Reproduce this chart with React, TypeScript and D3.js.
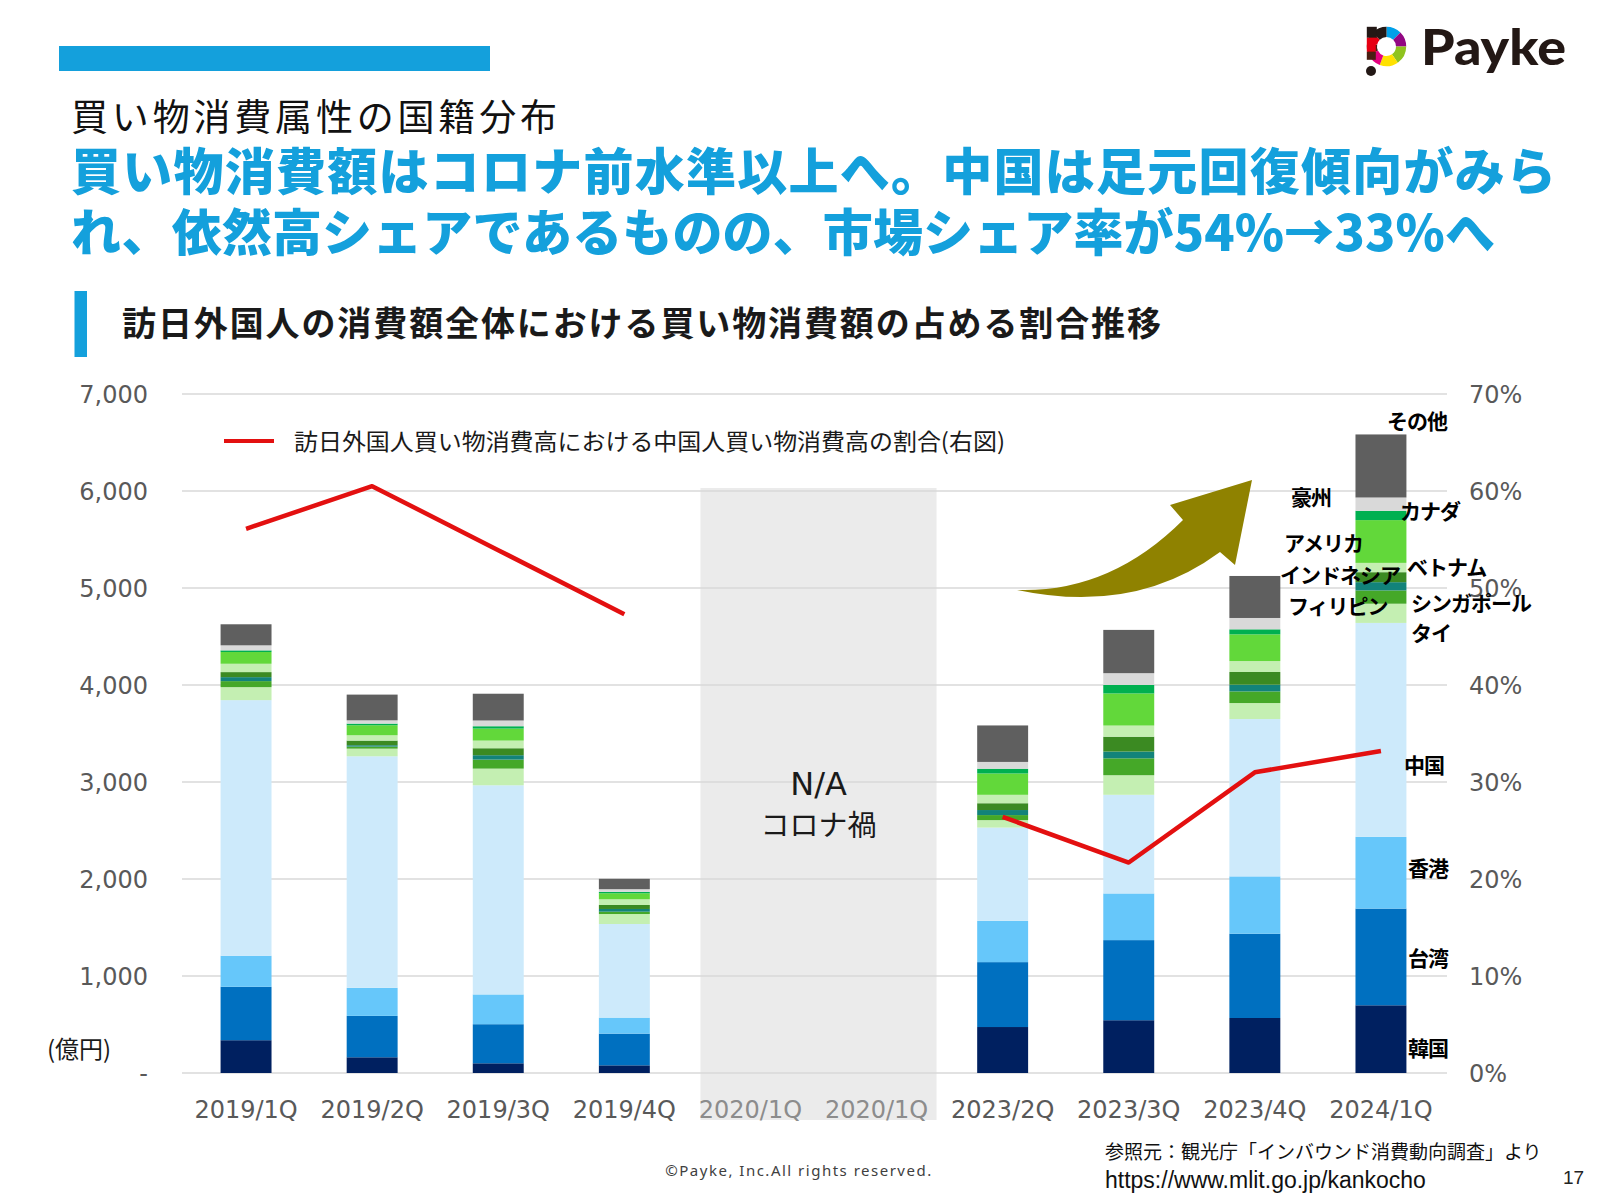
import React from 'react';
import * as d3 from 'd3';

// ---------------- data ----------------
const categories = ['2019/1Q', '2019/2Q', '2019/3Q', '2019/4Q', '2020/1Q', '2020/1Q', '2023/2Q', '2023/3Q', '2023/4Q', '2024/1Q'];
const noData = [false, false, false, false, true, true, false, false, false, false];

const seriesNames = ['韓国', '台湾', '香港', '中国', 'タイ', 'シンガポール', 'フィリピン', 'インドネシア', 'ベトナム', 'アメリカ', 'カナダ', '豪州', 'その他'];

// 億円
const korea = [338, 162, 100, 79, null, null, 474, 544, 567, 698];
const taiwan = [551, 427, 403, 327, null, null, 669, 826, 869, 997];
const hongkong = [320, 289, 307, 165, null, null, 425, 481, 591, 739];
const china = [2635, 2387, 2156, 965, null, null, 962, 1017, 1622, 2206];
const thailand = [134, 79, 172, 103, null, null, 77, 202, 165, 198];
const singapore = [62, 21, 93, 24, null, null, 52, 174, 120, 137];
const philippines = [41, 14, 45, 28, null, null, 52, 70, 69, 85];
const indonesia = [52, 48, 72, 41, null, null, 70, 153, 131, 103];
const vietnam = [86, 55, 79, 59, null, null, 87, 115, 113, 96];
const usa = [121, 103, 124, 62, null, null, 220, 331, 275, 441];
const canada = [17, 17, 24, 14, null, null, 49, 87, 52, 96];
const australia = [52, 34, 59, 28, null, null, 70, 122, 117, 137];
const others = [217, 265, 276, 107, null, null, 376, 446, 433, 650];

const seriesValues = [korea, taiwan, hongkong, china, thailand, singapore, philippines, indonesia, vietnam, usa, canada, australia, others];

// % share of Chinese shopping spend
const chinaShare = [56.1, 60.5, 53.9, 47.3, null, null, 26.4, 21.7, 31.0, 33.2];

const leftTicks = [0, 1000, 2000, 3000, 4000, 5000, 6000, 7000];
const rightTicks = [0, 0.1, 0.2, 0.3, 0.4, 0.5, 0.6, 0.7];

// ---------------- styles ----------------
const seriesColors = ['#002060', '#0070c0', '#66c7fa', '#cdeafb', '#c4efb2', '#45a828', '#12837a', '#3b8a22', '#c4efb2', '#62d83a', '#00b050', '#d9d9d9', '#5f5f5f'];
const JP = '"Noto Sans CJK JP", "Noto Sans", sans-serif';
const NUM = '"DejaVu Sans", Verdana, sans-serif';
const BLUE = '#14a0dc';

// label annotations for the last bar: [name, dx from bar centre, anchor value (億円), text-anchor]
const labelLayout: [string, number, number, string][] = [
  ['その他', 36, 6722, 'middle'],
  ['豪州', -90, 5938, 'start'],
  ['カナダ', 19, 5794, 'start'],
  ['アメリカ', -97, 5464, 'start'],
  ['インドネシア', -101, 5134, 'start'],
  ['ベトナム', 26, 5216, 'start'],
  ['フィリピン', -93, 4814, 'start'],
  ['シンガポール', 30, 4845, 'start'],
  ['タイ', 30, 4536, 'start'],
  ['中国', 23, 3175, 'start'],
  ['香港', 27, 2113, 'start'],
  ['台湾', 27, 1186, 'start'],
  ['韓国', 27, 258, 'start'],
];

export default function App() {
  const W = 1600, H = 1200;
  const plotL = 183, plotR = 1444;
  const y0 = 1073, y7 = 394;

  const x = d3.scaleBand<number>().domain(d3.range(categories.length)).range([plotL, plotR]).paddingInner(0.596).paddingOuter(0.298);
  const bw = x.bandwidth();
  const cx = (i: number) => (x(i) as number) + bw / 2;
  const y = d3.scaleLinear().domain([0, 7000]).range([y0, y7]);
  const yR = d3.scaleLinear().domain([0, 0.7]).range([y0, y7]);

  const rows = categories.map((_, i) => {
    const r: Record<string, number> = {};
    seriesNames.forEach((n, k) => { r[n] = seriesValues[k][i] ?? 0; });
    return r;
  });
  const stacked = d3.stack<Record<string, number>>().keys(seriesNames)(rows);

  const line = d3.line<number | null>()
    .defined((d) => d != null)
    .x((_, i) => cx(i))
    .y((d) => yR((d as number) / 100));

  const fmt = d3.format(',');
  const pct = d3.format('.0%');

  // logo arcs
  const logoC = [1386.5, 46.5];
  const arc = d3.arc<any>().innerRadius(9.5).outerRadius(19.7);
  const logoSegs: [number, number, string][] = [
    [0, 45, '#00a0e9'], [45, 90, '#920783'], [90, 145, '#8fc31f'], [145, 200, '#ffe100'],
    [200, 245, '#e4007f'], [245, 280, '#4a1e12'], [280, 315, '#e60012'], [315, 360, '#231815'],
  ];

  const naL = cx(4) - 50, naR = cx(5) + 60;
  const lastC = cx(categories.length - 1);

  return (
    <svg width={W} height={H} viewBox={`0 0 ${W} ${H}`} style={{ position: 'absolute', left: 0, top: 0, display: 'block', background: '#fff' }}>
      <rect x={0} y={0} width={W} height={H} fill="#fff" />

      {/* header */}
      <rect x={59} y={46} width={431} height={25} fill={BLUE} />
      <text x={71} y={131} fontFamily={JP} fontSize={37} fill="#111" textLength={486} lengthAdjust="spacing">買い物消費属性の国籍分布</text>
      <text x={71} y={190} fontFamily={JP} fontWeight={900} fontSize={50} fill={BLUE} textLength={1485} lengthAdjust="spacing">買い物消費額はコロナ前水準以上へ。中国は足元回復傾向がみら</text>
      <text x={71} y={251} fontFamily={JP} fontWeight={900} fontSize={50} fill={BLUE} textLength={1424} lengthAdjust="spacing">れ、依然高シェアであるものの、市場シェア率が54%→33%へ</text>

      {/* logo */}
      <g>
        {logoSegs.map(([a0, a1, c], i) => (
          <path key={i} d={arc({ startAngle: (a0 * Math.PI) / 180, endAngle: (a1 * Math.PI) / 180 }) as string} transform={`translate(${logoC[0]},${logoC[1]})`} fill={c} />
        ))}
        <rect x={1366.8} y={26.8} width={10} height={11} fill="#231815" />
        <rect x={1366.8} y={37.8} width={9} height={14} fill="#e60012" />
        <rect x={1366.8} y={51.8} width={9} height={8} fill="#4a1e12" />
        <circle cx={1371} cy={71} r={5} fill="#231815" />
        <text x={1421} y={65} fontFamily='Lato, "Noto Sans", sans-serif' fontWeight={900} fontSize={50} fill="#231815" textLength={145} lengthAdjust="spacingAndGlyphs">Payke</text>
      </g>

      {/* section heading */}
      <rect x={74.5} y={291} width={12.5} height={66} fill={BLUE} />
      <text x={122} y={335.5} fontFamily={JP} fontWeight={700} fontSize={34} fill="#1a1a1a" textLength={1039} lengthAdjust="spacing">訪日外国人の消費額全体における買い物消費額の占める割合推移</text>

      {/* N/A region */}
      <rect x={naL} y={488} width={naR - naL} height={1120 - 488} fill="#ebebeb" />

      {/* gridlines */}
      {leftTicks.map((t) => (
        <line key={t} x1={182} x2={1447} y1={y(t)} y2={y(t)} stroke="#d9d9d9" strokeWidth={1.5} />
      ))}

      {/* bars */}
      {stacked.map((layer, k) => (
        <g key={seriesNames[k]} fill={seriesColors[k]}>
          {layer.map((d, i) => {
            if (noData[i] || seriesValues[k][i] == null) return null;
            const h = y(d[0]) - y(d[1]);
            if (h <= 0) return null;
            return <rect key={i} x={x(i)} y={y(d[1])} width={bw} height={h} />;
          })}
        </g>
      ))}

      {/* arrow */}
      <path d="M1017,590 Q1110,593 1183,520 L1170,505 L1252,480 L1235,565 L1220,552 Q1135,615 1017,590 Z" fill="#8f8200" />

      {/* China share line */}
      <path d={line(chinaShare) as string} fill="none" stroke="#e31010" strokeWidth={4.5} strokeLinejoin="round" />

      {/* N/A text */}
      <text x={(naL + naR) / 2} y={795} textAnchor="middle" fontFamily={NUM} fontSize={32} fill="#1a1a1a">N/A</text>
      <text x={(naL + naR) / 2} y={836} textAnchor="middle" fontFamily={JP} fontSize={29} fill="#1a1a1a">コロナ禍</text>

      {/* legend */}
      <line x1={224} x2={274} y1={441} y2={441} stroke="#e31010" strokeWidth={4} />
      <text x={294} y={449.5} fontFamily={JP} fontSize={23} fill="#1a1a1a" textLength={711} lengthAdjust="spacingAndGlyphs">訪日外国人買い物消費高における中国人買い物消費高の割合(右図)</text>

      {/* left axis */}
      {leftTicks.map((t) => (
        <text key={t} x={148} y={y(t)} dy="0.36em" textAnchor="end" fontFamily={NUM} fontSize={24} fill="#595959">{t === 0 ? '-' : fmt(t)}</text>
      ))}
      <text x={47} y={1058} fontFamily={JP} fontSize={24} fill="#1a1a1a">(億円)</text>

      {/* right axis */}
      {rightTicks.map((t) => (
        <text key={t} x={1469} y={yR(t)} dy="0.36em" textAnchor="start" fontFamily={NUM} fontSize={24} fill="#595959">{pct(t)}</text>
      ))}

      {/* x labels */}
      {categories.map((c, i) => (
        <text key={i} x={cx(i)} y={1118} textAnchor="middle" fontFamily={NUM} fontSize={24} fill={noData[i] ? '#8c8c8c' : '#595959'}>{c}</text>
      ))}

      {/* series labels on last bar */}
      {labelLayout.map(([name, dx, v, anchor]) => (
        <text key={name} x={lastC + dx} y={y(v)} dy="0.36em" textAnchor={anchor as any} fontFamily={JP} fontWeight={700} fontSize={21} letterSpacing={-1} fill="#000">{name}</text>
      ))}

      {/* footer */}
      <text x={799} y={1176} textAnchor="middle" fontFamily='"Noto Sans", sans-serif' fontSize={15} letterSpacing={1.5} fill="#404040">©Payke, Inc.All rights reserved.</text>
      <text x={1105} y={1159} fontFamily={JP} fontSize={19} fill="#111">参照元：観光庁「インバウンド消費動向調査」より</text>
      <text x={1105} y={1188} fontFamily='"Liberation Sans", Arial, sans-serif' fontSize={23} fill="#111">https://www.mlit.go.jp/kankocho</text>
      <text x={1563} y={1184} fontFamily='"Liberation Sans", Arial, sans-serif' fontSize={19} fill="#222">17</text>
    </svg>
  );
}
